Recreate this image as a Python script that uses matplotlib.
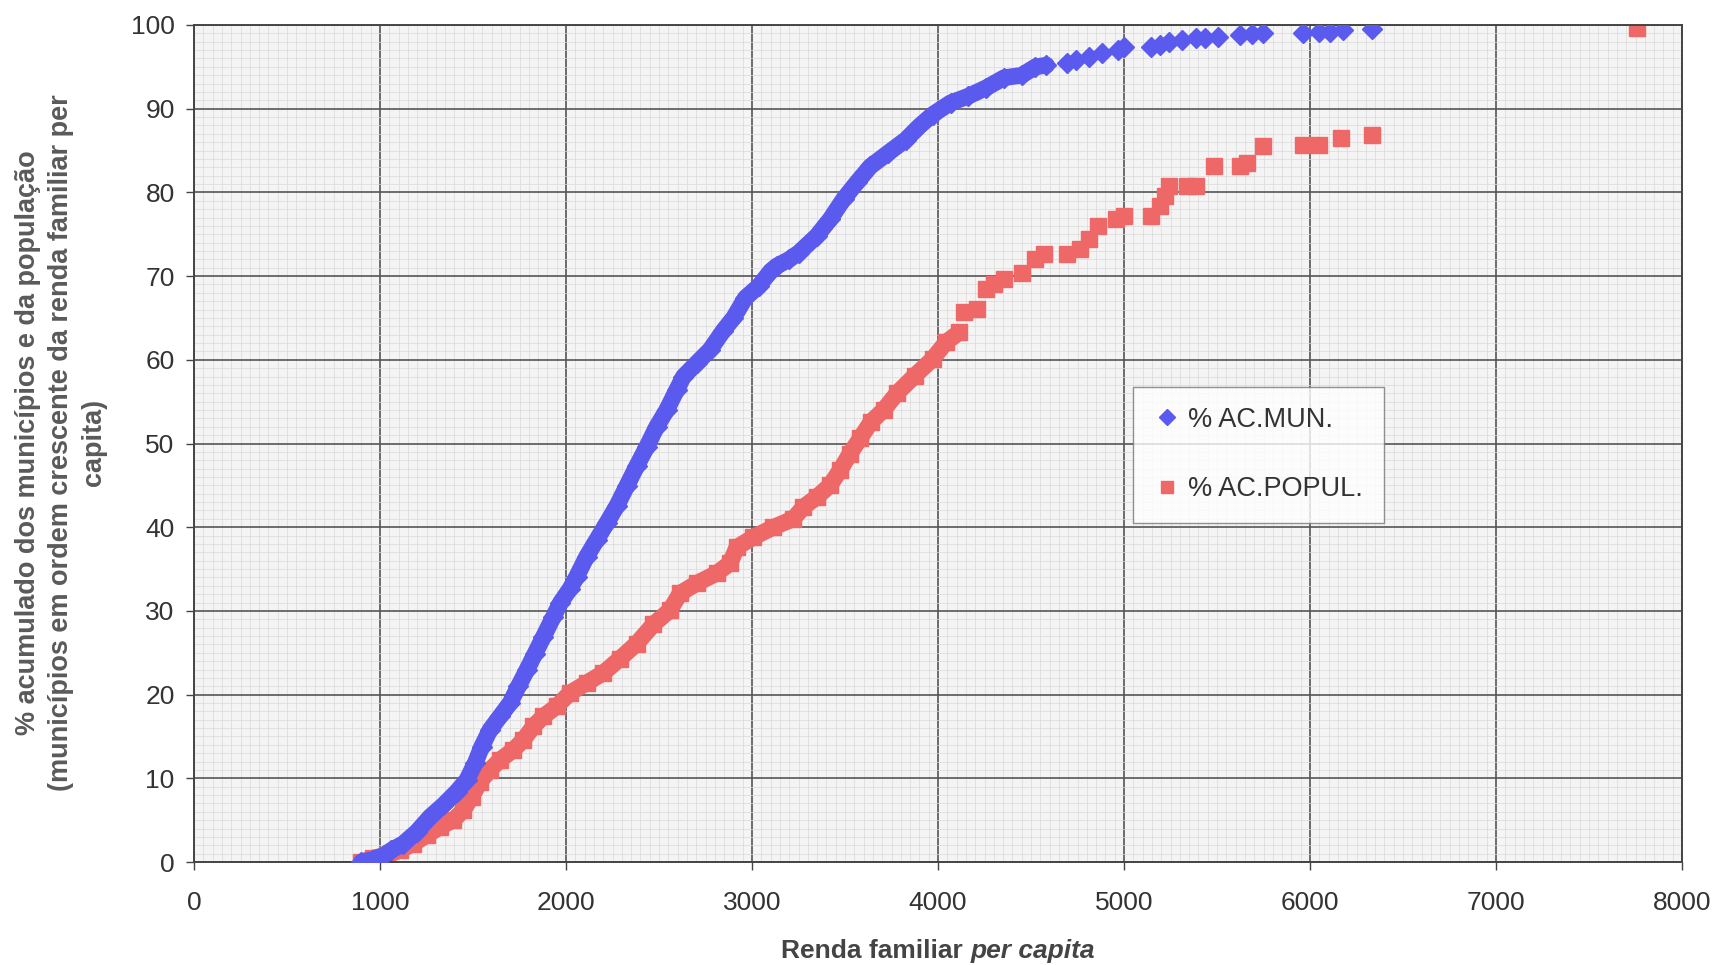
import matplotlib
matplotlib.use('Agg')
import matplotlib.pyplot as plt
from matplotlib.ticker import MultipleLocator

# renda familiar per capita x % acumulado dos municipios
mun_renda = [900, 960, 1020, 1060, 1125, 1197, 1269, 1340, 1412, 1466, 1511, 1547, 1591, 1645,
             1699, 1744, 1788, 1833, 1878, 1932, 1970, 2020, 2057, 2111, 2165, 2219, 2272, 2326,
             2380, 2434, 2487, 2541, 2595, 2631, 2702, 2774, 2846, 2900, 2964, 3036, 3100, 3132,
             3200, 3252, 3348, 3420, 3492, 3564, 3636, 3731, 3827, 3899, 3971, 4067, 4163, 4259,
             4355, 4451, 4523, 4583,
             4691, 4739, 4811, 4883, 4966, 5002, 5146, 5194, 5242, 5314, 5386, 5434, 5506, 5626,
             5686, 5746, 5962, 6046, 6106, 6177, 6333]
mun_pct = [0.0, 0.3, 0.8, 1.4, 2.2, 3.6, 5.4, 6.8, 8.4, 9.8, 11.8, 13.8, 15.8, 17.4,
           19.0, 21.0, 22.9, 24.9, 26.9, 29.3, 31.0, 32.6, 34.1, 36.5, 38.5, 40.5, 42.5, 44.9,
           47.3, 49.6, 52.0, 54.0, 56.4, 58.0, 59.6, 61.2, 63.5, 65.0, 67.4, 68.8, 70.6, 71.2,
           72.0, 72.8, 74.8, 76.8, 79.2, 81.2, 83.1, 84.7, 86.3, 87.9, 89.3, 90.7, 91.5, 92.5,
           93.7, 94.0, 95.0, 95.2,
           95.4, 95.8, 96.2, 96.6, 97.0, 97.4, 97.4, 97.6, 98.0, 98.2, 98.4, 98.4, 98.6, 98.8,
           98.9, 99.0, 99.0, 99.2, 99.2, 99.4, 99.5]

# renda familiar per capita x % acumulado da populacao
pop_renda = [900, 964, 1036, 1108, 1179, 1251, 1323, 1394, 1448, 1493, 1538, 1591, 1645, 1717,
             1771, 1824, 1878, 1950, 2021, 2111, 2201, 2290, 2380, 2470, 2559, 2613, 2703, 2810,
             2882, 2918, 3007, 3115, 3222, 3276, 3348, 3419, 3473, 3527, 3581, 3640, 3707, 3779,
             3875, 3971, 4043, 4115,
             4139, 4211, 4259, 4300, 4355, 4451, 4523, 4571, 4691, 4763, 4811, 4859, 4955, 5002,
             5146, 5194, 5218, 5242, 5338, 5386, 5482, 5626, 5662, 5746, 5962, 6046, 6165, 6333,
             7760]
pop_pct = [0.0, 0.5, 0.8, 1.4, 2.2, 3.2, 4.2, 5.0, 6.2, 7.8, 9.6, 11.0, 12.2, 13.4,
           14.6, 16.2, 17.4, 18.6, 20.2, 21.4, 22.6, 24.3, 26.1, 28.4, 30.1, 32.1, 33.3, 34.5,
           35.7, 37.6, 38.8, 40.0, 41.0, 42.4, 43.6, 45.0, 46.8, 48.8, 50.6, 52.6, 54.0, 56.0,
           58.1, 60.1, 62.1, 63.3,
           65.7, 66.1, 68.5, 69.0, 69.6, 70.4, 72.0, 72.6, 72.6, 73.2, 74.4, 76.0, 76.8, 77.2,
           77.2, 78.4, 79.6, 80.8, 80.8, 80.8, 83.1, 83.1, 83.5, 85.5, 85.7, 85.7, 86.5, 86.9,
           99.7]

# how many leading points of each series are packed tight enough to form a solid band
mun_dense = 60
pop_dense = 46

blue = '#5a5aef'
red = '#ef6868'
ink = '#333333'

plt.rcParams['font.family'] = ['Liberation Sans', 'DejaVu Sans']

fig = plt.figure(figsize=(17.16, 9.65), dpi=100)
ax = fig.add_axes([0.1131, 0.1067, 0.8671, 0.8674])
ax.set_facecolor('#f4f4f4')

ax.plot(mun_renda[:mun_dense], mun_pct[:mun_dense], color=blue, lw=12, solid_capstyle='round', zorder=3)
ax.plot(pop_renda[:pop_dense], pop_pct[:pop_dense], color=red, lw=12, solid_capstyle='butt', zorder=2)
ax.plot(pop_renda, pop_pct, ls='none', marker='s', ms=11.5, color=red, mec=red, label='% AC.POPUL.', zorder=2)
ax.plot(mun_renda, mun_pct, ls='none', marker='D', ms=10, color=blue, mec=blue, label='% AC.MUN.', zorder=3)

ax.set_xlim(0, 8000)
ax.set_ylim(0, 100)
ax.xaxis.set_major_locator(MultipleLocator(1000))
ax.yaxis.set_major_locator(MultipleLocator(10))
ax.xaxis.set_minor_locator(MultipleLocator(50))
ax.yaxis.set_minor_locator(MultipleLocator(1))
ax.grid(which='minor', color='#dadada', lw=0.5)
ax.grid(which='major', color='#555555', lw=1.2)
ax.set_axisbelow(True)
ax.tick_params(which='minor', length=0)
ax.tick_params(which='major', direction='out', length=6, width=1, color='#444444',
               labelsize=19, labelcolor=ink)
ax.tick_params(axis='x', pad=15)
ax.tick_params(axis='y', pad=8)
for s in ax.spines.values():
    s.set_color('#444444')
    s.set_linewidth(1.4)

# x label: "per capita" in bold italic, so two pieces placed side by side
fig.canvas.draw()
r = fig.canvas.get_renderer()
xl_y = 1 - 951 / 965
part1 = fig.text(0, xl_y, 'Renda familiar ', fontsize=19, fontweight='bold', color='#444444',
                 ha='left', va='center')
part2 = fig.text(0, xl_y, 'per capita', fontsize=19, fontweight='bold', style='italic',
                 color='#444444', ha='left', va='center')
w1 = part1.get_window_extent(r).width / fig.bbox.width
w2 = part2.get_window_extent(r).width / fig.bbox.width
x0 = 0.5465 - (w1 + w2) / 2
part1.set_x(x0)
part2.set_x(x0 + w1)

fig.text(0.0355, 0.541,
         '% acumulado dos municípios e da população\n'
         '(municípios em ordem crescente da renda familiar per\n'
         'capita)',
         rotation=90, ha='center', va='center', multialignment='center',
         fontsize=19.5, fontweight='bold', color='#5a5a5a', linespacing=1.35)

h, l = ax.get_legend_handles_labels()
leg = ax.legend(h[::-1], l[::-1], loc='upper left', bbox_to_anchor=(0.631, 0.568),
                fontsize=19.5, frameon=True, fancybox=False, edgecolor='#777777',
                handletextpad=0.3, handlelength=1.0, labelspacing=1.6, borderpad=0.75,
                borderaxespad=0, markerscale=0.8)
leg.get_frame().set_linewidth(1.0)
for t in leg.get_texts():
    t.set_color(ink)

fig.savefig('out.png', dpi=100, facecolor='white')
